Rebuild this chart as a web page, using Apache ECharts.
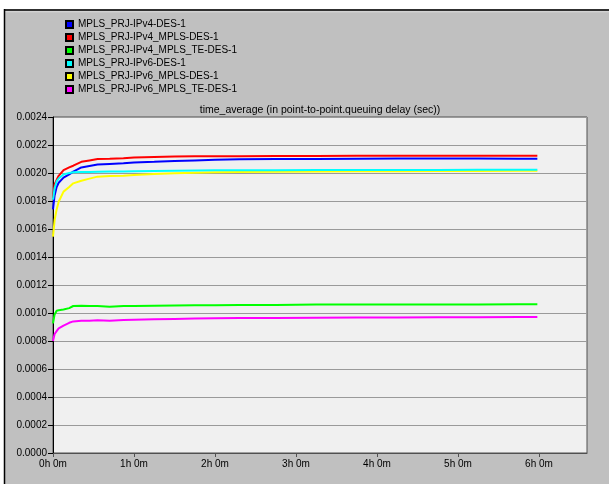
<!DOCTYPE html>
<html>
<head>
<meta charset="utf-8">
<script src="https://cdn.jsdelivr.net/npm/echarts@6/dist/echarts.min.js"></script>
<style>
  html, body { margin: 0; padding: 0; background: #ffffff; }
  #chart { width: 609px; height: 484px; }
</style>
</head>
<body>
<div id="chart"></div>
<script>
// Simulation time (hours) at which each statistic was sampled
const timeHours = [0, 0.02, 0.045, 0.07, 0.13, 0.2, 0.25, 0.35, 0.45, 0.55, 0.7, 0.87, 1.0, 1.25, 1.5, 1.75, 2.0, 2.3, 2.75, 3.25, 3.75, 4.25, 4.75, 5.25, 5.75, 5.98];

// Point-to-point queuing delay, time average (sec)
const ipv4Des        = [0.00174, 0.00184, 0.00190, 0.00193, 0.001967, 0.00199, 0.00201, 0.00204, 0.00205, 0.00206, 0.002065, 0.00207, 0.002075, 0.00208, 0.002086, 0.00209, 0.002094, 0.002098, 0.0021, 0.0021, 0.002102, 0.002103, 0.002103, 0.002103, 0.002102, 0.002102];
const ipv4Mpls       = [0.00182, 0.00192, 0.00195, 0.00198, 0.00202, 0.00204, 0.002052, 0.00208, 0.00209, 0.0021, 0.002102, 0.002105, 0.00211, 0.002114, 0.002117, 0.00212, 0.00212, 0.00212, 0.002122, 0.002122, 0.002124, 0.002124, 0.002124, 0.002124, 0.002124, 0.002124];
const ipv4MplsTe     = [0.000926, 0.00099, 0.001016, 0.00102, 0.001025, 0.001035, 0.00105, 0.001052, 0.00105, 0.00105, 0.001044, 0.00105, 0.00105, 0.001052, 0.001054, 0.001055, 0.001056, 0.001057, 0.001058, 0.00106, 0.00106, 0.00106, 0.00106, 0.00106, 0.001062, 0.001062];
const ipv6Des        = [0.00181, 0.00189, 0.00194, 0.00196, 0.00199, 0.002, 0.002005, 0.002007, 0.002008, 0.002009, 0.00201, 0.00201, 0.002012, 0.002014, 0.002016, 0.002018, 0.00202, 0.00202, 0.00202, 0.002021, 0.002022, 0.002022, 0.002022, 0.002023, 0.002023, 0.002023];
const ipv6Mpls       = [0.001545, 0.001664, 0.00174, 0.001795, 0.001867, 0.0019, 0.001926, 0.001945, 0.00196, 0.001974, 0.001978, 0.001981, 0.001986, 0.001993, 0.001998, 0.002002, 0.002005, 0.002007, 0.002009, 0.00201, 0.002012, 0.002013, 0.002014, 0.002015, 0.002016, 0.002016];
const ipv6MplsTe     = [0.0008, 0.00085, 0.00087, 0.00089, 0.00091, 0.00093, 0.00094, 0.000945, 0.000945, 0.000948, 0.000944, 0.00095, 0.000952, 0.000955, 0.000958, 0.00096, 0.000962, 0.000964, 0.000965, 0.000966, 0.000967, 0.000968, 0.000969, 0.00097, 0.000971, 0.000971];

const seriesNames = [
  'MPLS_PRJ-IPv4-DES-1',
  'MPLS_PRJ-IPv4_MPLS-DES-1',
  'MPLS_PRJ-IPv4_MPLS_TE-DES-1',
  'MPLS_PRJ-IPv6-DES-1',
  'MPLS_PRJ-IPv6_MPLS-DES-1',
  'MPLS_PRJ-IPv6_MPLS_TE-DES-1'
];
const seriesValues = [ipv4Des, ipv4Mpls, ipv4MplsTe, ipv6Des, ipv6Mpls, ipv6MplsTe];
const seriesColors = ['#0000ff', '#ff0000', '#00ff00', '#00ffff', '#ffff00', '#ff00ff'];
const seriesZ = [3, 3, 3, 4, 2, 3];

const titleText = 'time_average (in point-to-point.queuing delay (sec))';
const xTickHours = [0, 1, 2, 3, 4, 5, 6];

const FONT = '"Liberation Sans", Arial, sans-serif';

const chart = echarts.init(document.getElementById('chart'), null, { renderer: 'canvas' });

const series = seriesNames.map((name, i) => ({
  name: name,
  type: 'line',
  data: timeHours.map((t, k) => [t, seriesValues[i][k]]),
  showSymbol: false,
  symbol: 'rect',
  smooth: false,
  z: seriesZ[i],
  lineStyle: { color: seriesColors[i], width: 2 },
  itemStyle: { color: seriesColors[i], borderColor: '#000', borderWidth: 1 }
}));

chart.setOption({
  animation: false,
  backgroundColor: '#ffffff',
  graphic: [
    { type: 'rect', z: -100, shape: { x: 4, y: 9, width: 605, height: 475 }, style: { fill: '#c0c0c0' } },
    { type: 'line', z: -99, shape: { x1: 4, y1: 10, x2: 609, y2: 10 }, style: { stroke: '#000000', lineWidth: 1.5 } },
    { type: 'line', z: -99, shape: { x1: 5, y1: 11.8, x2: 609, y2: 11.8 }, style: { stroke: '#dadada', lineWidth: 1 } },
    { type: 'line', z: -99, shape: { x1: 4.5, y1: 9, x2: 4.5, y2: 484 }, style: { stroke: '#000000', lineWidth: 1.5 } },
    {
      type: 'text', z: 10,
      x: 320, y: 110,
      style: { text: titleText, fill: '#000', font: '10.5px ' + FONT, textAlign: 'center', textVerticalAlign: 'middle' }
    }
  ],
  legend: {
    orient: 'vertical',
    left: 65,
    top: 18,
    padding: 0,
    itemWidth: 7,
    itemHeight: 7,
    itemGap: 0,
    icon: 'rect',
    selectedMode: false,
    data: seriesNames,
    textStyle: { fontSize: 10, lineHeight: 13, color: '#000', fontFamily: FONT }
  },
  grid: {
    left: 53,
    right: 22,
    top: 117,
    bottom: 31,
    show: true,
    backgroundColor: '#f0f0f0',
    borderColor: '#505050',
    borderWidth: 1
  },
  xAxis: {
    type: 'value',
    min: 0,
    max: 6.593,
    interval: 1,
    axisLine: { show: true, lineStyle: { color: '#505050', width: 1 } },
    axisTick: { show: true, length: 4, customValues: xTickHours, lineStyle: { color: '#505050' } },
    axisLabel: {
      customValues: xTickHours,
      margin: 6,
      color: '#000',
      fontSize: 10,
      fontFamily: FONT,
      formatter: v => Math.round(v) + 'h 0m'
    },
    splitLine: { show: false }
  },
  yAxis: {
    type: 'value',
    min: 0,
    max: 0.0024,
    interval: 0.0002,
    axisLine: { show: true, lineStyle: { color: '#000', width: 1 } },
    axisTick: { show: true, length: 5, lineStyle: { color: '#000' } },
    axisLabel: {
      margin: 6,
      color: '#000',
      fontSize: 10,
      fontFamily: FONT,
      formatter: v => v.toFixed(4)
    },
    splitLine: { show: true, lineStyle: { color: '#9a9a9a', width: 1 } }
  },
  series: series
});
</script>
</body>
</html>
